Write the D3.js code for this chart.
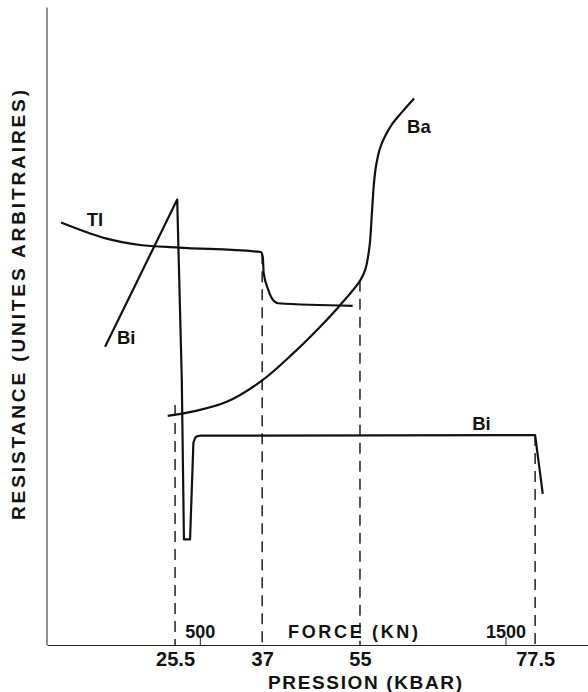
<!doctype html>
<html lang="fr">
<head>
  <meta charset="utf-8">
  <style>
    body { margin: 0; background: #fff; }
    text { font-family: "Liberation Sans", Arial, sans-serif; font-weight: bold; fill: #111; }
  </style>
</head>
<body>
  <div id="chart"></div>
  <script src="https://d3js.org/d3.v7.min.js"></script>
  <script>
    // x is the force in kN (linear axis), y is an arbitrary resistance unit
    var forceTicks = [500, 1500];
    var pressureLabels = ["25.5", "37", "55", "77.5"];
    var pressureForce = [419, 704, 1024, 1597];   // force where each pressure is reached

    var tlForce = [46, 141, 195, 304, 430, 700, 706, 709, 724, 738, 756, 1000];
    var tlRes   = [66.0, 64.3, 63.5, 62.5, 62.1, 61.4, 60.6, 58.1, 55.5, 54.0, 53.4, 53.0];

    var baForce = [395, 479, 588, 703, 806, 893, 959, 1024, 1041, 1055, 1063, 1070, 1077, 1090, 1106, 1129, 1162, 1201];
    var baRes   = [35.8, 36.5, 38.0, 41.3, 45.6, 49.7, 53.1, 56.9, 58.6, 62.2, 67.5, 72.3, 75.0, 77.7, 79.5, 81.4, 83.3, 85.4];

    var biForce = [190, 426, 441, 448, 468, 479, 484, 490, 500, 1597, 1622];
    var biRes   = [46.6, 69.6, 41.4, 16.5, 16.5, 31.6, 32.3, 32.6, 32.7, 32.8, 23.6];

    // dashed markers: top of each dashed line
    var dashTop = [37.5, 61.2, 56.9, 32.8];

    var width = 588, height = 692;
    var svg = d3.select("#chart").append("svg")
                .attr("width", width)
                .attr("height", height);

    var x = d3.scaleLinear().domain([0, 1770]).range([47, 588]);
    var y = d3.scaleLinear().domain([0, 100]).range([645, 5]);

    // Y axis (no ticks)
    svg.append("g")
       .attr("transform", "translate(" + x(0) + ",0)")
       .call(d3.axisLeft(y).tickValues([]).tickSizeOuter(0))
       .select(".domain").attr("d", "M0," + y(0) + "V" + y(99.6)).attr("stroke", "#222");

    // Force axis: ticks pointing up, labels above the line
    var fAxis = svg.append("g")
       .attr("transform", "translate(0," + y(0) + ")")
       .call(d3.axisBottom(x).tickValues(forceTicks).tickSize(-8).tickSizeOuter(0).tickFormat(d3.format("d")));
    fAxis.select(".domain").attr("stroke", "#222");
    fAxis.selectAll("line").attr("stroke", "#222");
    fAxis.selectAll("text")
         .attr("y", -7).attr("dy", 0)
         .style("font-size", "18px")
         .style("font-family", "'Liberation Sans', Arial, sans-serif")
         .attr("fill", "#111");

    svg.append("text")
       .attr("x", 353).attr("y", 638)
       .attr("text-anchor", "middle")
       .style("font-size", "18px")
       .attr("textLength", 130).attr("lengthAdjust", "spacing")
       .text("FORCE (KN)");

    // Pressure labels below the axis
    var pAxis = svg.append("g")
       .attr("transform", "translate(0," + y(0) + ")")
       .call(d3.axisBottom(x).tickValues(pressureForce).tickSize(0).tickSizeOuter(0)
               .tickFormat(function(d, i) { return pressureLabels[i]; }));
    pAxis.select(".domain").remove();
    pAxis.selectAll("text")
         .attr("y", 21).attr("dy", 0)
         .style("font-size", "20px")
         .style("font-family", "'Liberation Sans', Arial, sans-serif")
         .attr("fill", "#111");

    svg.append("text")
       .attr("x", 365).attr("y", 689)
       .attr("text-anchor", "middle")
       .style("font-size", "19px")
       .attr("textLength", 194).attr("lengthAdjust", "spacing")
       .text("PRESSION (KBAR)");

    svg.append("text")
       .attr("transform", "translate(25,305) rotate(-90)")
       .attr("text-anchor", "middle")
       .style("font-size", "19px")
       .attr("textLength", 430).attr("lengthAdjust", "spacing")
       .text("RESISTANCE (UNITES ARBITRAIRES)");

    // Dashed verticals
    svg.append("g").selectAll("line").data(pressureForce).enter()
       .append("line")
       .attr("x1", function(d) { return x(d); })
       .attr("x2", function(d) { return x(d); })
       .attr("y1", function(d, i) { return y(dashTop[i]); })
       .attr("y2", y(0))
       .attr("stroke", "#111")
       .attr("stroke-width", 1.4)
       .attr("stroke-dasharray", "11,7");

    function pts(fx, fy) { return fx.map(function(d, i) { return [d, fy[i]]; }); }

    var smooth = d3.line().x(function(d) { return x(d[0]); }).y(function(d) { return y(d[1]); })
                   .curve(d3.curveMonotoneX);
    var round = d3.line().x(function(d) { return x(d[0]); }).y(function(d) { return y(d[1]); })
                   .curve(d3.curveCatmullRom.alpha(0.5));
    var straight = d3.line().x(function(d) { return x(d[0]); }).y(function(d) { return y(d[1]); });

    svg.append("path").attr("d", smooth(pts(tlForce, tlRes)))
       .attr("fill", "none").attr("stroke", "#111").attr("stroke-width", 2.2);
    svg.append("path").attr("d", round(pts(baForce, baRes)))
       .attr("fill", "none").attr("stroke", "#111").attr("stroke-width", 2.2);
    svg.append("path").attr("d", straight(pts(biForce, biRes)))
       .attr("fill", "none").attr("stroke", "#111").attr("stroke-width", 2.2)
       .attr("stroke-linejoin", "round");

    // Curve labels
    var labels = [
      {t: "Tl", f: 130, r: 65.4},
      {t: "Bi", f: 229, r: 47.0},
      {t: "Ba", f: 1178, r: 80.0},
      {t: "Bi", f: 1391, r: 33.6}
    ];
    svg.append("g").selectAll("text").data(labels).enter()
       .append("text")
       .attr("x", function(d) { return x(d.f); })
       .attr("y", function(d) { return y(d.r); })
       .style("font-size", "18.5px")
       .text(function(d) { return d.t; });
  </script>
</body>
</html>
